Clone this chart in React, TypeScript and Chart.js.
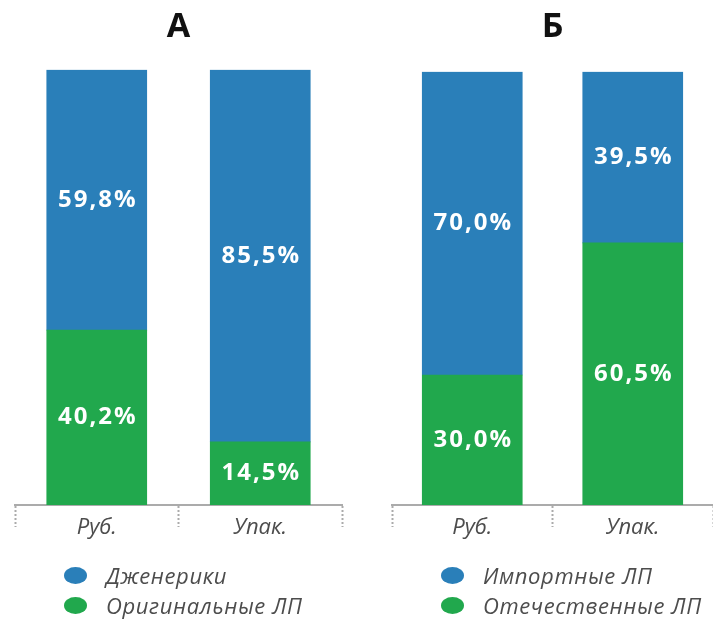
import React, { useEffect, useRef } from "react";
import { Chart, registerables } from "chart.js";

Chart.register(...registerables);

const categories = ["Руб.", "Упак."];
const titleA = "А";
const titleB = "Б";
const genericsA = [59.8, 85.5];
const originalsA = [40.2, 14.5];
const importB = [70.0, 39.5];
const domesticB = [30.0, 60.5];
const legendA = ["Дженерики", "Оригинальные ЛП"];
const legendB = ["Импортные ЛП", "Отечественные ЛП"];

const BLUE = "#2a7fb9";
const GREEN = "#21a84d";
const AXIS = "#ababab";
const LABEL_FONT = "'Open Sans', 'DejaVu Sans', sans-serif";
const CANVAS_H = 570;

const valueLabels = {
  id: "valueLabels",
  afterDatasetsDraw(chart: any) {
    const ctx = chart.ctx;
    ctx.save();
    ctx.fillStyle = "#ffffff";
    ctx.font = "bold 24px " + LABEL_FONT;
    try {
      ctx.letterSpacing = "2px";
    } catch (e) {}
    ctx.textAlign = "center";
    ctx.textBaseline = "middle";
    chart.data.datasets.forEach((ds: any, di: number) => {
      const meta = chart.getDatasetMeta(di);
      meta.data.forEach((el: any, i: number) => {
        const v = ds.data[i] as number;
        const p = el.getProps(["x", "y", "base"], true);
        ctx.fillText(v.toFixed(1).replace(".", ",") + "%", p.x + 1, (p.y + p.base) / 2);
      });
    });
    ctx.restore();
  },
};

type PanelProps = {
  title: string;
  top: number[];
  bottom: number[];
  legend: string[];
  left: number;
  width: number;
  padLeft: number;
  padRight: number;
  titleBottom: number;
};

function Panel(props: PanelProps) {
  const ref = useRef<HTMLCanvasElement | null>(null);
  useEffect(() => {
    if (!ref.current) return;
    const chart = new Chart(ref.current, {
      type: "bar",
      data: {
        labels: categories,
        datasets: [
          { label: props.legend[1], data: props.bottom, backgroundColor: GREEN, barThickness: 100 },
          { label: props.legend[0], data: props.top, backgroundColor: BLUE, barThickness: 100 },
        ],
      },
      options: {
        animation: false,
        responsive: false,
        maintainAspectRatio: false,
        layout: { padding: { left: props.padLeft, right: props.padRight, top: 0, bottom: 25 } },
        plugins: {
          legend: { display: false },
          tooltip: { enabled: false },
          title: {
            display: true,
            text: props.title,
            fullSize: false,
            color: "#111111",
            font: { family: "'Open Sans', 'DejaVu Sans', sans-serif", size: 34, weight: "bold" },
            padding: { top: 7, bottom: props.titleBottom },
          },
        },
        scales: {
          x: {
            stacked: true,
            offset: true,
            afterFit: (s: any) => {
              s.height = 40;
            },
            grid: {
              offset: true,
              drawOnChartArea: false,
              drawTicks: true,
              tickLength: 22,
              tickColor: AXIS,
              tickWidth: 2,
              tickBorderDash: [2, 2],
            },
            border: { display: true, color: AXIS, width: 2, dash: [2, 2] },
            ticks: {
              padding: -12,
              color: "#4d4d4d",
              font: { family: LABEL_FONT, size: 22, style: "italic" },
            },
          },
          y: {
            stacked: true,
            display: false,
            min: 0,
            max: 100,
          },
        },
      } as any,
      plugins: [valueLabels],
    });
    return () => chart.destroy();
  }, []);

  const legendColors = [BLUE, GREEN];
  return (
    <>
      <canvas
        ref={ref}
        width={props.width}
        height={CANVAS_H}
        style={{ position: "absolute", left: props.left, top: 0, width: props.width, height: CANVAS_H }}
      />
      {props.legend.map((t, i) => (
        <div
          key={t}
          style={{
            position: "absolute",
            left: props.left + props.padLeft + 49,
            top: 561 + i * 30,
            height: 28,
            display: "flex",
            alignItems: "center",
            fontFamily: LABEL_FONT,
            fontStyle: "italic",
            fontSize: 22,
            letterSpacing: "0.6px",
            color: "#4d4d4d",
            whiteSpace: "nowrap",
          }}
        >
          <span
            style={{
              display: "inline-block",
              width: 23,
              height: 17,
              borderRadius: "50%",
              background: legendColors[i],
              marginRight: 19,
            }}
          />
          {t}
        </div>
      ))}
    </>
  );
}

export default function App() {
  return (
    <div style={{ position: "fixed", left: 0, top: 0, width: 713, height: 619, background: "#fff", overflow: "hidden" }}>
      <Panel title={titleA} top={genericsA} bottom={originalsA} legend={legendA} left={0} width={356} padLeft={15} padRight={14} titleBottom={22} />
      <Panel title={titleB} top={importB} bottom={domesticB} legend={legendB} left={356} width={357} padLeft={36} padRight={0} titleBottom={24} />
    </div>
  );
}
